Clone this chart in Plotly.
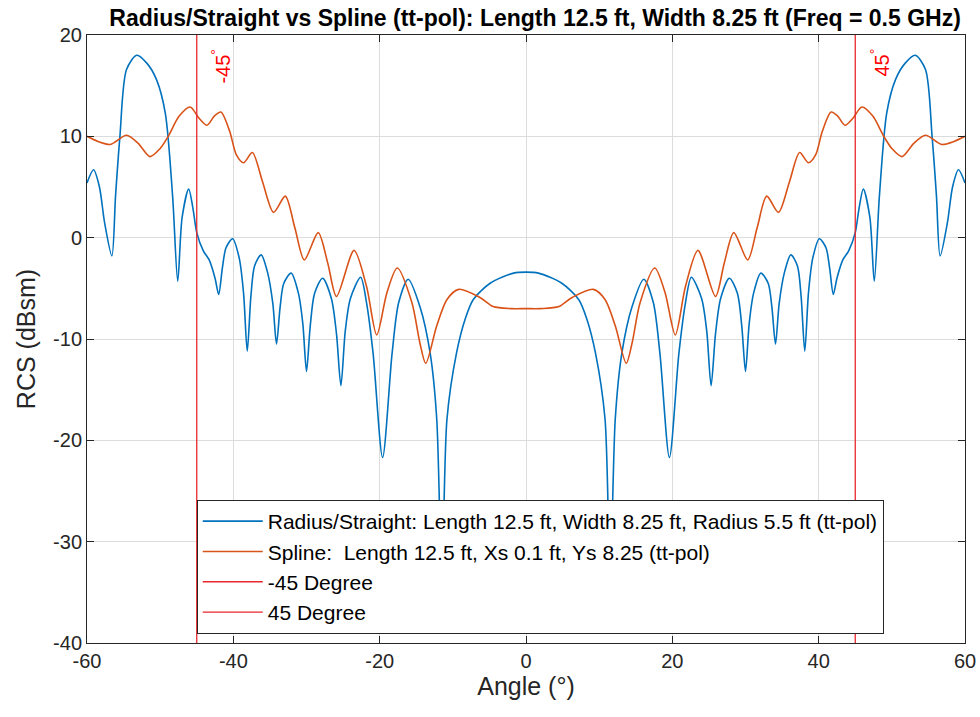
import plotly.graph_objects as go

# ---------------- data ----------------
angle_radius = [
    -60, -59.1, -58.3, -57.6, -56.6, -56.1, -55.5, -54.6, -53.2, -51.8, -50.5, -49.3, -48.3, -47.6,
    -47.0, -46.1, -45.5, -45.0, -44.1, -43.3, -42.5, -42.0, -41.5, -41.0, -40.1, -39.2, -38.6, -38.1,
    -37.6, -37.1, -36.2, -35.3, -34.6, -34.1, -33.6, -33.1, -32.1, -31.1, -30.5, -30.0, -29.5, -28.9,
    -27.8, -26.6, -25.9, -25.3, -24.7, -24.0, -22.6, -21.8, -20.9, -19.6, -18.3, -17.4, -16.1, -14.5,
    -13.1, -12.2, -11.5, -10.8, -9.5, -8.3, -7.2, -4.9, -1.7, 0,
    1.7, 4.9, 7.2, 8.3, 9.5, 10.8, 11.5, 12.2, 13.1, 14.5, 16.1, 17.4, 18.3, 19.6, 20.9, 21.8, 22.6,
    24.0, 24.7, 25.3, 25.9, 26.6, 27.8, 28.9, 29.5, 30.0, 30.5, 31.1, 32.1, 33.1, 33.6, 34.1, 34.6,
    35.3, 36.2, 37.1, 37.6, 38.1, 38.6, 39.2, 40.1, 41.0, 41.5, 42.0, 42.5, 43.3, 44.1, 45.0, 45.5,
    46.1, 47.0, 47.6, 48.3, 49.3, 50.5, 51.8, 53.2, 54.6, 55.5, 56.1, 56.6, 57.6, 58.3, 59.1, 60,
]
rcs_radius = [
    5.4, 6.7, 5.0, 1.5, -1.8, 4.1, 10.0, 16.6, 18.0, 17.2, 15.6, 12.3, 4.1, -4.3,
    2.0, 4.8, 2.8, 0.5, -1.3, -2.2, -4.0, -5.6, -3.0, -1.0, -0.1, -2.0, -5.5, -11.2,
    -5.8, -2.8, -1.7, -3.5, -6.5, -10.5, -6.8, -4.5, -3.5, -5.5, -8.5, -13.2, -8.8, -5.5,
    -4.0, -6.0, -9.5, -14.6, -9.2, -6.0, -3.9, -6.4, -11.4, -21.7, -11.4, -6.4, -4.1, -6.8,
    -11.4, -17.9, -34.0, -17.9, -11.4, -8.0, -6.1, -4.5, -3.5, -3.4,
    -3.5, -4.5, -6.1, -8.0, -11.4, -17.9, -34.0, -17.9, -11.4, -6.8, -4.1, -6.4, -11.4, -21.7, -11.4, -6.4, -3.9,
    -6.0, -9.2, -14.6, -9.5, -6.0, -4.0, -5.5, -8.8, -13.2, -8.5, -5.5, -3.5, -4.5, -6.8, -10.5, -6.5,
    -3.5, -1.7, -2.8, -5.8, -11.2, -5.5, -2.0, -0.1, -1.0, -3.0, -5.6, -4.0, -2.2, -1.3, 0.5, 2.8,
    4.8, 2.0, -4.3, 4.1, 12.3, 15.6, 17.2, 18.0, 16.6, 10.0, 4.1, -1.8, 1.5, 5.0, 6.7, 5.4,
]

angle_spline = [
    -60, -58.5, -56.8, -54.6, -53.0, -51.4, -50.0, -48.9, -47.4, -45.9, -44.7, -43.6, -42.6, -41.7,
    -40.5, -39.6, -38.6, -37.4, -36.0, -34.5, -32.9, -31.6, -30.3, -28.4, -27.1, -25.9, -23.5, -21.8,
    -20.4, -19.0, -17.6, -15.6, -14.5, -13.7, -12.2, -10.8, -9.2, -6.3, -4.5, -2.0, 0,
    2.0, 4.5, 6.3, 9.2, 10.8, 12.2, 13.7, 14.5, 15.6, 17.6, 19.0, 20.4, 21.8, 23.5, 25.9, 27.1, 28.4,
    30.3, 31.6, 32.9, 34.5, 36.0, 37.4, 38.6, 39.6, 40.5, 41.7, 42.6, 43.6, 44.7, 45.9, 47.4, 48.9,
    50.0, 51.4, 53.0, 54.6, 56.8, 58.5, 60,
]
rcs_spline = [
    10.0, 9.5, 9.2, 10.1, 9.3, 8.0, 8.8, 10.0, 12.0, 12.9, 11.8, 11.1, 12.0, 12.4,
    10.5, 8.2, 7.4, 8.4, 5.5, 2.5, 4.1, 1.0, -2.2, 0.5, -2.5, -5.8, -1.25, -4.8,
    -9.6, -5.4, -3.0, -6.4, -10.4, -12.4, -8.7, -6.1, -5.1, -5.9, -6.8, -7.0, -7.0,
    -7.0, -6.8, -5.9, -5.1, -6.1, -8.7, -12.4, -10.4, -6.4, -3.0, -5.4, -9.6, -4.8, -1.25, -5.8, -2.5, 0.5,
    -2.2, 1.0, 4.1, 2.5, 5.5, 8.4, 7.4, 8.2, 10.5, 12.4, 12.0, 11.1, 11.8, 12.9, 12.0, 10.0,
    8.8, 8.0, 9.3, 10.1, 9.2, 9.5, 10.0,
]

marker_angles = [-45, 45]
marker_names = ["-45 Degree", "45 Degree"]
marker_labels = ["-45<sup>°</sup>", "45<sup>°</sup>"]
y_limits = [-40, 20]
x_limits = [-60, 60]
x_tick_values = [-60, -40, -20, 0, 20, 40, 60]
x_tick_labels = ["-60", "-40", "-20", "0", "20", "40", "60"]
y_tick_values = [-40, -30, -20, -10, 0, 10, 20]
y_tick_labels = ["-40", "-30", "-20", "-10", "0", "10", "20"]

title_text = "Radius/Straight vs Spline (tt-pol): Length 12.5 ft, Width 8.25 ft (Freq = 0.5 GHz)"
name_radius = "Radius/Straight: Length 12.5 ft, Width 8.25 ft, Radius 5.5 ft (tt-pol)"
name_spline = "Spline:  Length 12.5 ft, Xs 0.1 ft, Ys 8.25 (tt-pol)"

# ---------------- figure ----------------
FONT = "Liberation Sans, Arial, Helvetica, sans-serif"
BLUE = "#0072BD"
ORANGE = "#D95319"
RED = "#E8262B"

fig = go.Figure()
fig.add_trace(go.Scatter(x=angle_radius, y=rcs_radius, mode="lines", name=name_radius,
                         line=dict(color=BLUE, width=1.6, shape="spline", smoothing=0.8)))
fig.add_trace(go.Scatter(x=angle_spline, y=rcs_spline, mode="lines", name=name_spline,
                         line=dict(color=ORANGE, width=1.6, shape="spline", smoothing=0.8)))
for a, nm in zip(marker_angles, marker_names):
    fig.add_trace(go.Scatter(x=[a, a], y=y_limits, mode="lines", name=nm,
                             line=dict(color=RED, width=1.3)))

for a, lab in zip(marker_angles, marker_labels):
    fig.add_annotation(x=a + 3.3, y=18.9, text=lab, textangle=-90, showarrow=False,
                       xanchor="center", yanchor="top",
                       font=dict(family=FONT, size=20, color="#FF0000"))

axis_common = dict(
    showgrid=True, gridcolor="#DCDCDC", gridwidth=1,
    showline=True, linecolor="#262626", linewidth=1, mirror="ticks",
    ticks="inside", ticklen=7, tickcolor="#262626", zeroline=False,
    automargin=False,
    tickfont=dict(family=FONT, size=20, color="#262626"),
)

fig.update_layout(
    width=980, height=717,
    margin=dict(l=87, r=15, t=35, b=74),
    paper_bgcolor="white", plot_bgcolor="white",
    title=dict(text="<b>" + title_text + "</b>", x=0.546, xanchor="center",
               y=1 - 18 / 717, yanchor="middle",
               font=dict(family=FONT, size=23, color="#000000")),
    xaxis=dict(range=x_limits, tickvals=x_tick_values, ticktext=x_tick_labels,
               title=dict(text="Angle (°)", standoff=6,
                          font=dict(family=FONT, size=25, color="#262626")),
               **axis_common),
    yaxis=dict(range=y_limits, tickvals=y_tick_values, ticktext=y_tick_labels,
               title=dict(text="RCS (dBsm)", standoff=10,
                          font=dict(family=FONT, size=25, color="#262626")),
               **axis_common),
    legend=dict(x=0.125, y=(643 - 500) / 608, xanchor="left", yanchor="top",
                bgcolor="white", bordercolor="#262626", borderwidth=1,
                font=dict(family=FONT, size=21, color="#000000"),
                itemwidth=60, tracegroupgap=0),
    showlegend=True,
)

fig.write_html("out.html")
